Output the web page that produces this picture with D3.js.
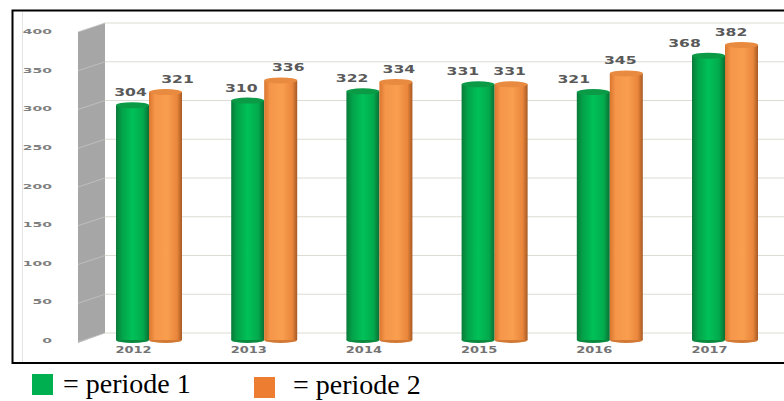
<!DOCTYPE html>
<html><head><meta charset="utf-8">
<script src="https://cdn.jsdelivr.net/npm/d3@7"></script>
<style>html,body{margin:0;padding:0;background:#fff;}svg{display:block;}</style>
</head><body>
<svg id="c" width="784" height="401"></svg>
<script>
const years = ["2012","2013","2014","2015","2016","2017"];
const periode1 = [304, 310, 322, 331, 321, 368];
const periode2 = [321, 336, 334, 331, 345, 382];
const yTicks = [0, 50, 100, 150, 200, 250, 300, 350, 400];
const seriesNames = ["periode 1", "periode 2"];

const svg = d3.select("#c");
const defs = svg.append("defs");
function grad(id, stops){
  const g = defs.append("linearGradient").attr("id", id).attr("x1","0").attr("x2","1").attr("y1","0").attr("y2","0");
  stops.forEach(s => g.append("stop").attr("offset", s[0]).attr("stop-color", s[1]));
}
grad("gGreen", [["0%","#0a7a38"],["18%","#03a249"],["50%","#00c158"],["82%","#03aa4d"],["100%","#0a6f35"]]);
grad("gOrange", [["0%","#d9762e"],["18%","#f5964a"],["55%","#f99e4f"],["85%","#e9863b"],["100%","#a65a24"]]);

// front-plane and back-wall value scales
const yF = d3.scaleLinear().domain([0, 400]).range([340, 31]);
const yB = d3.scaleLinear().domain([0, 400]).range([333, 23]);
const x = d3.scaleBand().domain(years).range([91.4, 782.6]).paddingInner(0.427).paddingOuter(0.2135);
const xs = d3.scaleBand().domain(seriesNames).range([0, x.bandwidth()]);

// chart area faint border
svg.append("line").attr("x1",22.5).attr("x2",22.5).attr("y1",12).attr("y2",362).attr("stroke","#e3e3e3");

// side wall
const wl = 78, wr = 105;
svg.append("path")
  .attr("d", `M${wl},${yB(400)+9}L${wr},${yB(400)}L${wr},${yB(0)}L${wl},${yB(0)+10}Z`)
  .attr("fill", "#a6a6a6");
// gridlines: on side wall (diagonal) and back wall
yTicks.forEach(t => {
  svg.append("line").attr("x1", wl).attr("y1", yB(t)+9).attr("x2", wr).attr("y2", yB(t))
    .attr("stroke", "#c4c4c4").attr("stroke-width", 0.8);
  svg.append("line").attr("x1", wr).attr("x2", 784).attr("y1", yB(t)).attr("y2", yB(t))
    .attr("stroke", "#dcdcd2").attr("stroke-width", 1);
});

// y axis labels
yTicks.forEach(t => {
  svg.append("text").attr("transform", `translate(52,${yF(t)+3}) scale(1.4,0.72)`)
    .attr("text-anchor","end").attr("font-family","DejaVu Sans").attr("font-weight","bold")
    .attr("font-size", 10).attr("fill", "#7f7f7f").text(t);
});

// bars
const series = [
  {name: seriesNames[0], values: periode1, fill: "url(#gGreen)", top: "#0b9a46", bot: "#0a8a3e"},
  {name: seriesNames[1], values: periode2, fill: "url(#gOrange)", top: "#e88a3f", bot: "#d27a35"}
];
series.forEach(s => {
  const g = svg.append("g");
  years.forEach((yr, i) => {
    const v = s.values[i];
    const bx = x(yr) + xs(s.name);
    const bw = xs.bandwidth();
    g.append("ellipse").attr("cx", bx + bw/2).attr("cy", yF(0)).attr("rx", bw/2).attr("ry", 3).attr("fill", s.bot);
    g.append("rect").attr("x", bx).attr("y", yF(v)).attr("width", bw).attr("height", yF(0) - yF(v)).attr("fill", s.fill);
    g.append("ellipse").attr("cx", bx + bw/2).attr("cy", yF(v)).attr("rx", bw/2).attr("ry", 3).attr("fill", s.top);
  });
});

// value labels
series.forEach((s, si) => {
  years.forEach((yr, i) => {
    const v = s.values[i];
    const cx = x(yr) + xs(s.name) + xs.bandwidth()/2;
    const dx = si === 0 ? (-2 - 4.4*i) : (12 - 4.5*i);
    svg.append("text").attr("transform", `translate(${cx+dx},${yF(v)-9}) scale(1.25,0.85)`)
      .attr("text-anchor","middle").attr("font-family","DejaVu Sans").attr("font-weight","bold")
      .attr("font-size", 12.5).attr("fill", "#595959").text(v);
  });
});

// year labels
years.forEach(yr => {
  svg.append("text").attr("transform", `translate(${x(yr) + xs.bandwidth()/2 + 1},353) scale(1.3,0.8)`)
    .attr("text-anchor","middle").attr("font-family","DejaVu Sans").attr("font-weight","bold")
    .attr("font-size", 10).attr("fill", "#737373").text(yr);
});

// outer black box
svg.append("path").attr("d", "M790,10.5L12.5,10.5L12.5,363L790,363")
  .attr("fill","none").attr("stroke","#000").attr("stroke-width", 2);

// legend
const legend = [
  {sq: 32, sy: 374, size: 21, color: "#00b050", tx: 63, ty: 393, label: "= " + seriesNames[0]},
  {sq: 254, sy: 377, size: 21, color: "#ed7d31", tx: 293, ty: 394, label: "= " + seriesNames[1]}
];
legend.forEach(l => {
  svg.append("rect").attr("x", l.sq).attr("y", l.sy).attr("width", l.size).attr("height", l.size).attr("fill", l.color);
  svg.append("text").attr("x", l.tx).attr("y", l.ty).attr("font-family", "Liberation Serif")
    .attr("font-size", 28).attr("fill", "#000").text(l.label);
});
</script>
</body></html>
